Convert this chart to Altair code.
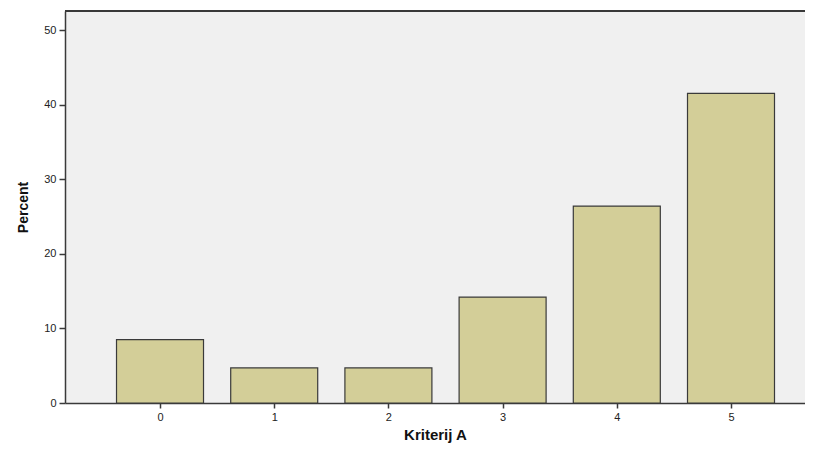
import altair as alt
import pandas as pd

categories = [0, 1, 2, 3, 4, 5]
percents = [8.5, 4.7, 4.7, 14.2, 26.4, 41.5]
y_ticks = [0, 10, 20, 30, 40, 50]

df = pd.DataFrame({"cat": categories, "pct": percents})

W, H = 740, 392
font = "Liberation Sans"

bars = alt.Chart(df).mark_bar(
    size=87, color="#d3ce98", stroke="#3a3a3a", strokeWidth=1.2
).encode(
    x=alt.X("cat:Q", title="Kriterij A",
            scale=alt.Scale(domain=[-0.832, 5.648], nice=False, zero=False, padding=0),
            axis=alt.Axis(values=categories, format="d", grid=False,
                          tickSize=5, labelPadding=3, titlePadding=5,
                          labelFontSize=11, titleFontSize=15)),
    y=alt.Y("pct:Q", title="Percent",
            scale=alt.Scale(domain=[0, 52.55], nice=False, padding=0),
            axis=alt.Axis(values=y_ticks, grid=False, tickSize=6,
                          labelPadding=3, titlePadding=13,
                          labelFontSize=11, titleFontSize=14)),
)

top = alt.Chart(df).mark_rule(color="#3a3a3a", strokeWidth=1.5).encode(
    x=alt.value(0), x2=alt.value(W), y=alt.value(0)
)

chart = alt.layer(bars, top).properties(
    width=W, height=H,
    autosize=alt.AutoSizeParams(type="none"),
    padding={"left": 57, "top": 3, "right": 0, "bottom": 44},
).configure_view(
    fill="#f0f0f0", stroke=None
).configure_axis(
    domainColor="#3a3a3a", domainWidth=1.5, tickColor="#3a3a3a", tickWidth=1.5,
    labelColor="#222222", titleColor="#111111",
    labelFont=font, titleFont=font, titleFontWeight="bold"
)

chart.save("out.html", embed_options={"renderer": "svg", "actions": False})
